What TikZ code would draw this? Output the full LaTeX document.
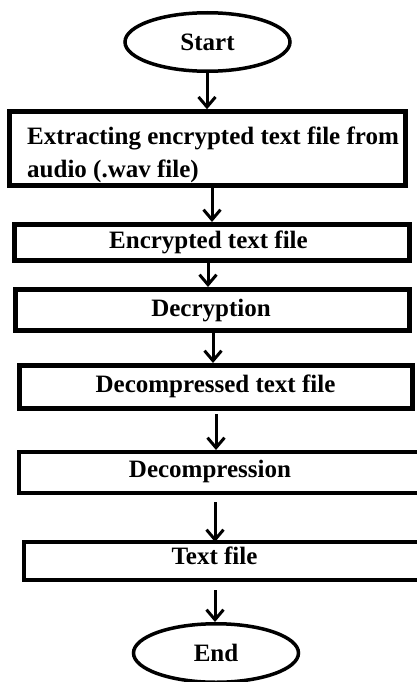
\documentclass[tikz,border=0pt]{standalone}
\usepackage{fontspec}
\setmainfont{Liberation Serif}
\usetikzlibrary{arrows.meta,shapes.geometric}
\begin{document}
\begin{tikzpicture}[x=1pt,y=-1pt,
  boxthick/.style={draw=black,line width=5pt,rectangle,inner sep=0pt},
  boxthin/.style={draw=black,line width=4pt,rectangle,inner sep=0pt},
  term/.style={draw=black,line width=3.5pt,ellipse,inner sep=0pt,minimum width=165pt,minimum height=58.5pt,
    font=\fontsize{25}{30}\selectfont\bfseries},
  lbl/.style={inner sep=0pt,anchor=base,font=\fontsize{25}{30}\selectfont\bfseries},
  arr/.style={line width=3pt,-{Straight Barb[length=10pt,width=17pt,line width=3pt]}}]
\clip (0,0) rectangle (417,682);
\fill[white] (0,0) rectangle (417,682);
% terminals
\node[term] (start) at (207.5,42) {Start};
\node[term] (end) at (216,653) {End};
% boxes
\node[boxthick,minimum width=395.5pt,minimum height=73.5pt] (b1) at (207.5,148.5) {};
\node[boxthick,minimum width=395pt,minimum height=36pt] (b2) at (212,242.5) {};
\node[boxthick,minimum width=394pt,minimum height=41pt] (b3) at (212.5,310) {};
\node[boxthick,minimum width=393pt,minimum height=43pt] (b4) at (216,387) {};
\node[boxthin,minimum width=440pt,minimum height=41pt] (b5) at (239,472.5) {};
\node[boxthin,minimum width=440pt,minimum height=38pt] (b6) at (244,561) {};
% texts
\node[inner sep=0pt,anchor=west,align=left,font=\fontsize{25}{33}\selectfont\bfseries] (t1) at (27,155)
  {Extracting encrypted text file from\\audio (.wav file)};
\node[lbl] (t2) at (208.5,248) {Encrypted text file};
\node[lbl] (t3) at (211,316) {Decryption};
\node[lbl] (t4) at (215.5,392) {Decompressed text file};
\node[lbl] (t5) at (210,477) {Decompression};
\node[lbl] (t6) at (214.5,564) {Text file};
% arrow x positions
\coordinate (x1) at (207,0);
\coordinate (x2) at (212,0);
\coordinate (x3) at (208,0);
\coordinate (x4) at (213,0);
\coordinate (x5) at (216,0);
\coordinate (x6) at (215,0);
\coordinate (x7) at (215,0);
% connectors
\draw[arr] (start.south -| x1) -- (b1.north -| x1);
\draw[arr] (b1.south -| x2) -- (b2.north -| x2);
\draw[arr] (b2.south -| x3) -- (b3.north -| x3);
\draw[arr] (b3.south -| x4) -- (b4.north -| x4);
\draw[arr] ([yshift=-3pt]b4.south -| x5) -- (b5.north -| x5);
\draw[arr] ([yshift=-7pt]b5.south -| x6) -- ([yshift=-2pt]b6.north -| x6);
\draw[arr] ([yshift=-8pt]b6.south -| x7) -- (end.north -| x7);
\end{tikzpicture}
\end{document}
